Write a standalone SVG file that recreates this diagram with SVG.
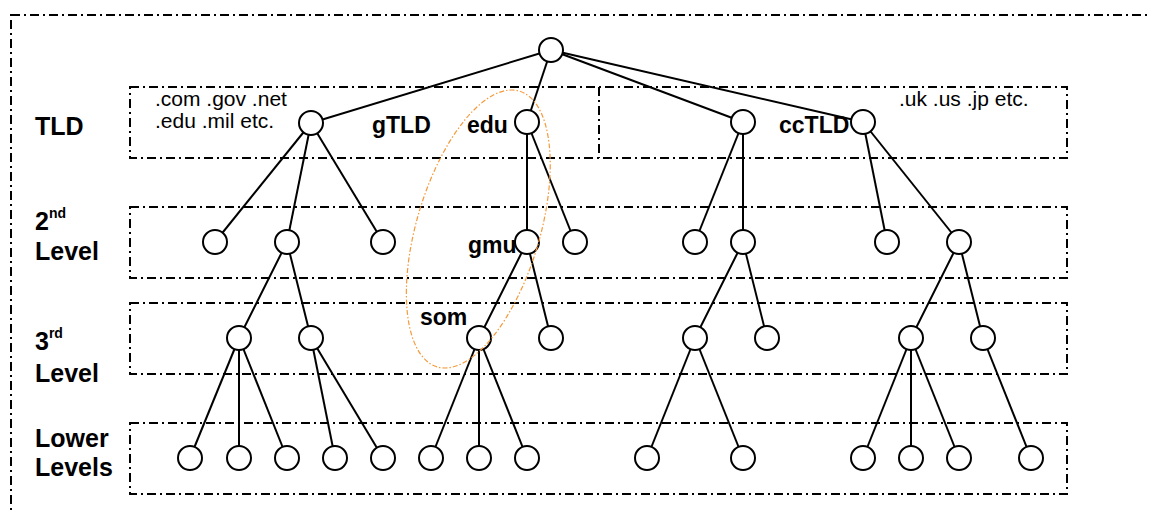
<svg xmlns="http://www.w3.org/2000/svg" width="1149" height="512" viewBox="0 0 1149 512">
<style>
.frame{fill:none;stroke:#000;stroke-width:2;stroke-dasharray:9,4,2,4}
.edge{stroke:#000;stroke-width:2;fill:none}
.node{fill:#fff;stroke:#000;stroke-width:2}
.lbl{font-family:"Liberation Sans",Arial,sans-serif;font-weight:bold;fill:#000}
.big{font-size:25px}
.tree{font-size:23px}
.sup{font-size:14px}
.small{font-family:"Liberation Sans",Arial,sans-serif;font-size:21px;fill:#000}
.zone{fill:none;stroke:#F59A3C;stroke-width:1.2;stroke-dasharray:5,2,1.5,2}
</style>
<rect width="1149" height="512" fill="#fff"/>
<g id="frames">
<rect class="frame" x="11" y="15" width="1150" height="510"/>
<rect class="frame" x="130" y="87" width="937" height="71"/>
<line class="frame" x1="599" y1="87" x2="599" y2="158"/>
<rect class="frame" x="130" y="207" width="937" height="71"/>
<rect class="frame" x="130" y="303" width="937" height="71"/>
<rect class="frame" x="130" y="423" width="937" height="71"/>
</g>
<g id="level-labels">
<text class="lbl big" x="35" y="135">TLD</text>
<text class="lbl big" x="35" y="230">2<tspan class="sup" dy="-12">nd</tspan></text>
<text class="lbl big" x="35" y="260">Level</text>
<text class="lbl big" x="35" y="350">3<tspan class="sup" dy="-12">rd</tspan></text>
<text class="lbl big" x="35" y="382">Level</text>
<text class="lbl big" x="35" y="447">Lower</text>
<text class="lbl big" x="35" y="476">Levels</text>
</g>
<g id="notes">
<text class="small" x="155" y="106">.com .gov .net</text>
<text class="small" x="155" y="128">.edu .mil etc.</text>
<text class="small" x="899" y="106">.uk .us .jp etc.</text>
</g>
<g id="connectors">
<line class="edge" x1="551" y1="50" x2="311" y2="123"/>
<line class="edge" x1="551" y1="50" x2="527" y2="122"/>
<line class="edge" x1="551" y1="50" x2="743" y2="122"/>
<line class="edge" x1="551" y1="50" x2="863" y2="122"/>
<line class="edge" x1="311" y1="123" x2="215" y2="242"/>
<line class="edge" x1="311" y1="123" x2="287" y2="242"/>
<line class="edge" x1="311" y1="123" x2="383" y2="242"/>
<line class="edge" x1="527" y1="122" x2="527" y2="242"/>
<line class="edge" x1="527" y1="122" x2="575" y2="242"/>
<line class="edge" x1="743" y1="122" x2="695" y2="242"/>
<line class="edge" x1="743" y1="122" x2="743" y2="242"/>
<line class="edge" x1="863" y1="122" x2="887" y2="242"/>
<line class="edge" x1="863" y1="122" x2="959" y2="242"/>
<line class="edge" x1="287" y1="242" x2="239" y2="338"/>
<line class="edge" x1="287" y1="242" x2="311" y2="338"/>
<line class="edge" x1="527" y1="242" x2="479" y2="338"/>
<line class="edge" x1="527" y1="242" x2="551" y2="338"/>
<line class="edge" x1="743" y1="242" x2="695" y2="338"/>
<line class="edge" x1="743" y1="242" x2="767" y2="338"/>
<line class="edge" x1="959" y1="242" x2="911" y2="338"/>
<line class="edge" x1="959" y1="242" x2="983" y2="338"/>
<line class="edge" x1="239" y1="338" x2="190" y2="458"/>
<line class="edge" x1="239" y1="338" x2="239" y2="458"/>
<line class="edge" x1="239" y1="338" x2="287" y2="458"/>
<line class="edge" x1="311" y1="338" x2="335" y2="458"/>
<line class="edge" x1="311" y1="338" x2="383" y2="458"/>
<line class="edge" x1="479" y1="338" x2="431" y2="458"/>
<line class="edge" x1="479" y1="338" x2="479" y2="458"/>
<line class="edge" x1="479" y1="338" x2="527" y2="458"/>
<line class="edge" x1="695" y1="338" x2="647" y2="458"/>
<line class="edge" x1="695" y1="338" x2="743" y2="458"/>
<line class="edge" x1="911" y1="338" x2="863" y2="458"/>
<line class="edge" x1="911" y1="338" x2="911" y2="458"/>
<line class="edge" x1="911" y1="338" x2="959" y2="458"/>
<line class="edge" x1="983" y1="338" x2="1031" y2="458"/>
</g>
<g id="n-root"><circle class="node" cx="551" cy="50" r="12"/></g>
<g id="n-gtld"><circle class="node" cx="311" cy="123" r="12"/><text class="lbl tree" x="372" y="133">gTLD</text></g>
<g id="n-edu"><circle class="node" cx="527" cy="122" r="12"/><text class="lbl tree" x="467" y="133">edu</text></g>
<g id="n-t3"><circle class="node" cx="743" cy="122" r="12"/></g>
<g id="n-cctld"><circle class="node" cx="863" cy="122" r="12"/><text class="lbl tree" x="779" y="133">ccTLD</text></g>
<g id="n-2a"><circle class="node" cx="215" cy="242" r="12"/></g>
<g id="n-2b"><circle class="node" cx="287" cy="242" r="12"/></g>
<g id="n-2c"><circle class="node" cx="383" cy="242" r="12"/></g>
<g id="n-gmu"><circle class="node" cx="527" cy="242" r="12"/><text class="lbl tree" x="468" y="253">gmu</text></g>
<g id="n-2e"><circle class="node" cx="575" cy="242" r="12"/></g>
<g id="n-2f"><circle class="node" cx="695" cy="242" r="12"/></g>
<g id="n-2g"><circle class="node" cx="743" cy="242" r="12"/></g>
<g id="n-2h"><circle class="node" cx="887" cy="242" r="12"/></g>
<g id="n-2i"><circle class="node" cx="959" cy="242" r="12"/></g>
<g id="n-3a"><circle class="node" cx="239" cy="338" r="12"/></g>
<g id="n-3b"><circle class="node" cx="311" cy="338" r="12"/></g>
<g id="n-som"><circle class="node" cx="479" cy="338" r="12"/><text class="lbl tree" x="420" y="325">som</text></g>
<g id="n-3d"><circle class="node" cx="551" cy="338" r="12"/></g>
<g id="n-3e"><circle class="node" cx="695" cy="338" r="12"/></g>
<g id="n-3f"><circle class="node" cx="767" cy="338" r="12"/></g>
<g id="n-3g"><circle class="node" cx="911" cy="338" r="12"/></g>
<g id="n-3h"><circle class="node" cx="983" cy="338" r="12"/></g>
<g id="n-4a"><circle class="node" cx="190" cy="458" r="12"/></g>
<g id="n-4b"><circle class="node" cx="239" cy="458" r="12"/></g>
<g id="n-4c"><circle class="node" cx="287" cy="458" r="12"/></g>
<g id="n-4d"><circle class="node" cx="335" cy="458" r="12"/></g>
<g id="n-4e"><circle class="node" cx="383" cy="458" r="12"/></g>
<g id="n-4f"><circle class="node" cx="431" cy="458" r="12"/></g>
<g id="n-4g"><circle class="node" cx="479" cy="458" r="12"/></g>
<g id="n-4h"><circle class="node" cx="527" cy="458" r="12"/></g>
<g id="n-4i"><circle class="node" cx="647" cy="458" r="12"/></g>
<g id="n-4j"><circle class="node" cx="743" cy="458" r="12"/></g>
<g id="n-4k"><circle class="node" cx="863" cy="458" r="12"/></g>
<g id="n-4l"><circle class="node" cx="911" cy="458" r="12"/></g>
<g id="n-4m"><circle class="node" cx="959" cy="458" r="12"/></g>
<g id="n-4n"><circle class="node" cx="1031" cy="458" r="12"/></g>
<g id="highlight">
<ellipse class="zone" cx="478.3" cy="229" rx="61.6" ry="143.9" transform="rotate(16.6 478.3 229)"/>
</g>
</svg>
